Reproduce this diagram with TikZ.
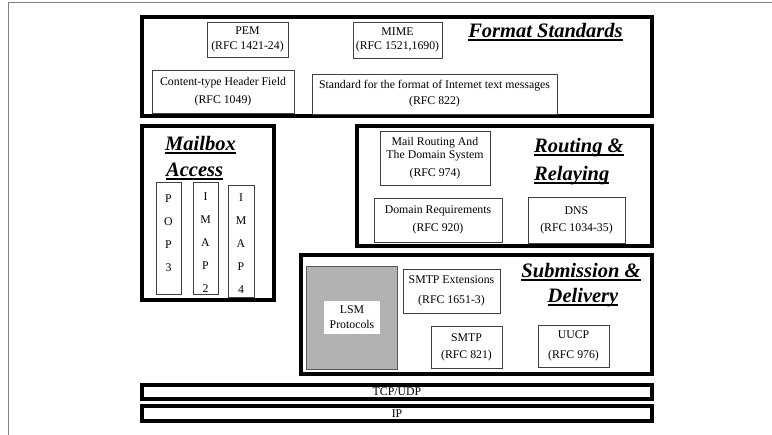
\documentclass[tikz,border=0pt]{standalone}
\usepackage{fontspec}
\setmainfont{Liberation Serif}
\newcommand{\undl}[1]{\leavevmode\setbox0\hbox{#1}\rlap{\rule[-3pt]{\wd0}{1.5pt}}\box0}

\begin{document}
\begin{tikzpicture}[x=1pt, y=-1pt,
    group/.style={draw, line width=3.6pt, inner sep=0pt},
    item/.style={draw=black!75, line width=0.9pt, inner sep=0pt, align=center, font=\fontsize{11.8}{13.5}\selectfont},
    letters/.style={align=center, inner sep=0pt, font=\fontsize{11.8}{23}\selectfont},
    title/.style={inner sep=0pt, font=\fontsize{20.5}{25}\selectfont\bfseries\itshape}]
    \useasboundingbox (0,0) rectangle (772,435);
    \draw[gray, line width=1pt] (8,435) -- (8,3) -- (772,3);

    \node[group, minimum width=510, minimum height=99] (fmt) at (397,66.5) {};
    \node[group, minimum width=132, minimum height=174] (mbx) at (208,213) {};
    \node[group, minimum width=295, minimum height=120] (rte) at (504.5,186) {};
    \node[group, minimum width=351, minimum height=119] (sub) at (476.5,314.5) {};
    \node[group, minimum width=510, minimum height=14, text height=7.8, text depth=0, font=\fontsize{11.8}{13.5}\selectfont] (tcp) at (397,392) {TCP/UDP};
    \node[group, minimum width=510, minimum height=15, text height=7.8, text depth=0, font=\fontsize{11.8}{13.5}\selectfont] (ip) at (397,413.5) {IP};

    \node[title, anchor=base] (fmtt) at (545.5,38) {\undl{Format Standards}};
    \node[item, minimum width=81, minimum height=35] (pem) at (247.5,39.5) {PEM\\[1.5pt](RFC 1421-24)};
    \node[item, minimum width=89, minimum height=36] (mime) at (397.5,40) {MIME\\[0.5pt](RFC 1521,1690)};
    \node[item, minimum width=142, minimum height=43] (cth) at (223,91.5) {Content-type Header Field\\[4.5pt](RFC 1049)};
    \node[item, minimum width=245, minimum height=40] (std) at (434.5,94) {Standard for the format of Internet text messages\\[2.5pt](RFC 822)};

    \node[title, anchor=base west] (mbxt1) at (165,151) {\undl{Mailbox}};
    \node[title, anchor=base west] (mbxt2) at (166,177) {\undl{Access}};
    \node[item, minimum width=25, minimum height=112] (pop3) at (168.5,238) {};
    \node[item, minimum width=25, minimum height=112] (imap2) at (205.5,238) {};
    \node[item, minimum width=26, minimum height=112] (imap4) at (241,241) {};
    \node[letters] (pop3t) at (168.5,233.5) {P\\O\\P\\3};
    \node[letters] (imap2t) at (205.5,243) {I\\M\\A\\P\\2};
    \node[letters] (imap4t) at (241,244) {I\\M\\A\\P\\4};

    \node[title, anchor=base west] (rtet1) at (534,153) {\undl{Routing \&}};
    \node[title, anchor=base west] (rtet2) at (534,181) {\undl{Relaying}};
    \node[item, minimum width=110, minimum height=54] (mrd) at (435,158) {Mail Routing And\\The Domain System\\[4.5pt](RFC 974)};
    \node[item, minimum width=128, minimum height=44] (drq) at (438,220) {Domain Requirements\\[4.5pt](RFC 920)};
    \node[item, minimum width=97, minimum height=46] (dns) at (576.5,220) {DNS\\[3.5pt](RFC 1034-35)};

    \node[title, anchor=base] (subt1) at (581,278) {\undl{Submission \&}};
    \node[title, anchor=base] (subt2) at (583,303) {\undl{Delivery}};
    \node[item, draw=black!65, fill=black!30, minimum width=91, minimum height=103] (lsm) at (351.5,317.5) {};
    \node[item, draw=none, fill=white, minimum width=56, minimum height=33] (lsmt) at (352,317.5) {LSM\\[1.5pt]Protocols};
    \node[item, minimum width=97, minimum height=44] (smtpx) at (451.5,291) {SMTP Extensions\\[6.5pt](RFC 1651-3)};
    \node[item, minimum width=71, minimum height=42] (smtp) at (466.5,347) {SMTP\\[3.5pt](RFC 821)};
    \node[item, minimum width=71, minimum height=42] (uucp) at (573.5,346) {UUCP\\[6.5pt](RFC 976)};
\end{tikzpicture}
\end{document}
